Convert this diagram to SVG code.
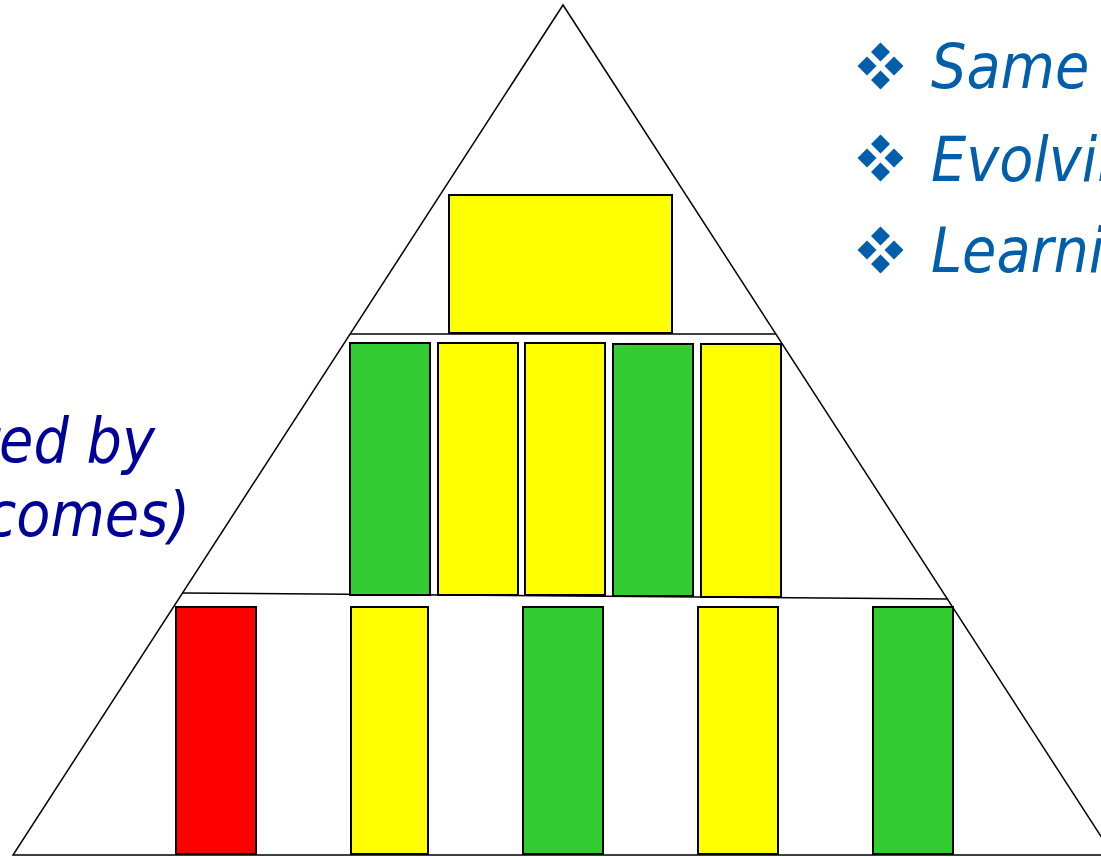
<svg xmlns="http://www.w3.org/2000/svg" width="1101" height="857" viewBox="0 0 1101 857">
<style>
.box{stroke:#000;stroke-width:2}
.y{fill:#ffff00}.g{fill:#33cc33}.r{fill:#ff0000}
.ln{stroke:#000;stroke-width:1.5;fill:none}
.rt{font-family:"DejaVu Sans Condensed","DejaVu Sans",sans-serif;font-style:italic;font-size:62px;fill:#005eaa}
.lt{font-family:"DejaVu Sans Condensed","DejaVu Sans",sans-serif;font-style:italic;font-size:62px;fill:#000099;text-anchor:end}
.bul{fill:#005eaa}
</style>
<defs>
<g id="b">
<polygon points="0,-23.5 9.5,-14 0,-4.5 -9.5,-14"/>
<polygon points="-23,0 -13.5,-9.5 -4,0 -13.5,9.5"/>
<polygon points="4,0 13.5,-9.5 23,0 13.5,9.5"/>
<polygon points="0,4.5 9.5,14 0,23.5 -9.5,14"/>
</g>
</defs>
<rect width="1101" height="857" fill="#fff"/>
<g id="connectors">
<polygon class="ln" points="563,5 13,855 1113,855"/>
<line class="ln" x1="350" y1="334" x2="776" y2="334"/>
<line class="ln" x1="183" y1="593" x2="948" y2="599"/>
</g>
<g id="top"><rect class="box y" x="449" y="195" width="223" height="138"/></g>
<g id="m1"><rect class="box g" x="350" y="343" width="80" height="252"/></g>
<g id="m2"><rect class="box y" x="438" y="343" width="80" height="252"/></g>
<g id="m3"><rect class="box y" x="525" y="343" width="80" height="252"/></g>
<g id="m4"><rect class="box g" x="613" y="344" width="80" height="252"/></g>
<g id="m5"><rect class="box y" x="701" y="344" width="80" height="253"/></g>
<g id="b1"><rect class="box r" x="176" y="607" width="80" height="247"/></g>
<g id="b2"><rect class="box y" x="351" y="607" width="77" height="247"/></g>
<g id="b3"><rect class="box g" x="523" y="607" width="80" height="247"/></g>
<g id="b4"><rect class="box y" x="698" y="607" width="80" height="247"/></g>
<g id="b5"><rect class="box g" x="873" y="607" width="80" height="247"/></g>
<g id="bullets" class="bul">
<use href="#b" x="880.5" y="66"/>
<use href="#b" x="880.5" y="158"/>
<use href="#b" x="880.5" y="250"/>
</g>
<g id="right-text">
<text class="rt" x="931" y="88">Same</text>
<text class="rt" x="931" y="181">Evolving</text>
<text class="rt" x="931" y="272">Learning</text>
</g>
<g id="left-text">
<text class="lt" x="155" y="462">ted by</text>
<text class="lt" x="190" y="536">comes)</text>
</g>
</svg>
